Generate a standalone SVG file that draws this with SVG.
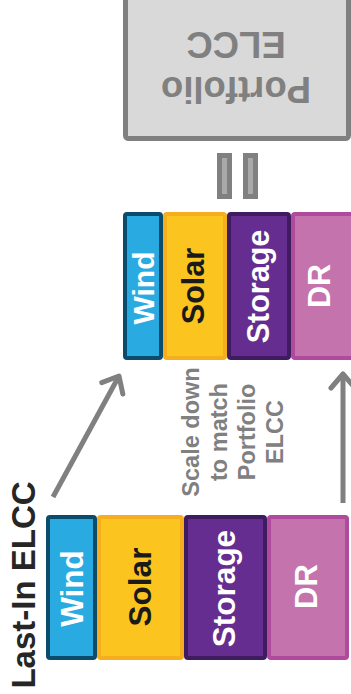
<svg xmlns="http://www.w3.org/2000/svg" width="351" height="694" viewBox="0 0 351 694">
<style>
text{font-family:"Liberation Sans",Arial,sans-serif;font-weight:bold;text-anchor:middle}
.wind{fill:#29abe2;stroke:#0b4b6b;stroke-width:4}
.solar{fill:#fcc41f;stroke:#f4ae1e;stroke-width:4}
.stor{fill:#662d91;stroke:#3f1c5f;stroke-width:4}
.dr{fill:#c473ad;stroke:#b04a9c;stroke-width:4}
.w{fill:#ffffff}
.k{fill:#1a1a1a}
.g{fill:#808080}
.arr{stroke:#808080;stroke-width:5;fill:none}
.eq{fill:#a9a9a9;stroke:#808080;stroke-width:5}
</style>
<defs>
<marker id="ah" markerUnits="userSpaceOnUse" markerWidth="40" markerHeight="40" viewBox="-20 -20 40 40" refX="0" refY="0" orient="auto" overflow="visible">
<path d="M-14,-12 L0,0 L-14,12" fill="none" stroke="#808080" stroke-width="5" stroke-linecap="round" stroke-linejoin="round"/>
</marker>
</defs>

<g id="portfolio">
<rect x="125.5" y="-10" width="223" height="148.5" rx="3" fill="#d9d9d9" stroke="#808080" stroke-width="5"/>
<g transform="translate(236,0) rotate(180)">
<text class="g" x="0" y="-77" font-size="36.5">Portfolio</text>
<text class="g" x="0" y="-32" font-size="36.5">ELCC</text>
</g>
</g>

<g id="equals">
<rect class="eq" x="219.5" y="155.5" width="10" height="41"/>
<rect class="eq" x="245.5" y="155.5" width="10" height="41"/>
</g>

<g id="scaled-bar">
<g id="scaled-solar"><rect class="solar" x="165" y="214" width="60" height="144" rx="2"/>
<text class="k" font-size="30.5" transform="translate(204,286) rotate(-90)">Solar</text></g>
<g id="scaled-dr"><rect class="dr" x="293" y="214" width="60" height="144" rx="2"/>
<text class="w" font-size="30.5" transform="translate(330,286) rotate(-90)">DR</text></g>
<g id="scaled-wind"><rect class="wind" x="125" y="214" width="36" height="144" rx="2"/>
<text class="w" font-size="30" transform="translate(154,288) rotate(-90)">Wind</text></g>
<g id="scaled-storage"><rect class="stor" x="229" y="214" width="60" height="144" rx="2"/>
<text class="w" font-size="30.5" transform="translate(269,286.5) rotate(-90)">Storage</text></g>
</g>

<g id="lastin-bar">
<g id="lastin-solar"><rect class="solar" x="99" y="517" width="83" height="141" rx="2"/>
<text class="k" font-size="31.5" transform="translate(151,587) rotate(-90)">Solar</text></g>
<g id="lastin-dr"><rect class="dr" x="269" y="517" width="78" height="141" rx="2"/>
<text class="w" font-size="31" transform="translate(317,586.5) rotate(-90)">DR</text></g>
<g id="lastin-wind"><rect class="wind" x="48" y="517" width="47" height="141" rx="2"/>
<text class="w" font-size="31.5" transform="translate(83,588.5) rotate(-90)">Wind</text></g>
<g id="lastin-storage"><rect class="stor" x="186" y="517" width="79" height="141" rx="2"/>
<text class="w" font-size="31.5" transform="translate(234.5,588.5) rotate(-90)">Storage</text></g>
</g>

<g id="lastin-label">
<text fill="#262626" font-size="33" transform="translate(34.5,585) rotate(-90)">Last-In ELCC</text>
</g>

<g id="scale-label" transform="translate(0,432) rotate(-90)">
<text class="g" font-size="23.5" x="0" y="199">Scale down</text>
<text class="g" font-size="23.5" x="0" y="227">to match</text>
<text class="g" font-size="23.5" x="0" y="255">Portfolio</text>
<text class="g" font-size="23.5" x="0" y="283">ELCC</text>
</g>

<g id="connectors">
<line class="arr" x1="53" y1="497" x2="119" y2="376" marker-end="url(#ah)"/>
<line class="arr" x1="343" y1="503" x2="343" y2="374" marker-end="url(#ah)"/>
</g>
</svg>
